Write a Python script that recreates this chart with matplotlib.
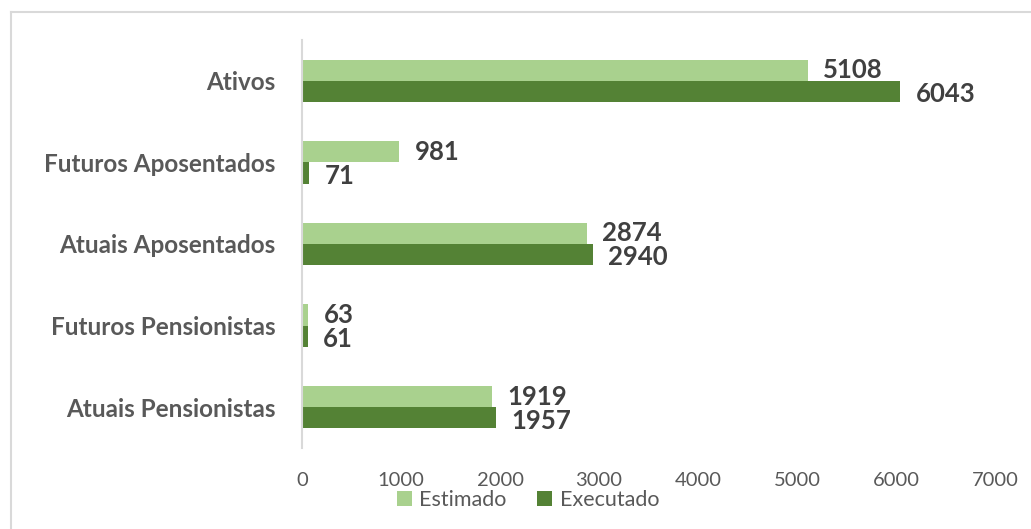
import numpy as np
import matplotlib.pyplot as plt
from matplotlib.lines import Line2D

categories = ['Ativos', 'Futuros Aposentados', 'Atuais Aposentados',
              'Futuros Pensionistas', 'Atuais Pensionistas']
estimado = [5108, 981, 2874, 63, 1919]
executado = [6043, 71, 2940, 61, 1957]
xticks = [0, 1000, 2000, 3000, 4000, 5000, 6000, 7000]

light = '#A9D18E'
dark = '#548235'

plt.rcParams['font.family'] = ['Lato', 'DejaVu Sans']

fig = plt.figure(figsize=(10.31, 5.29), dpi=100)
ax = fig.add_axes([302 / 1031, 1 - 448 / 529, (995 - 302) / 1031, (448 - 40) / 529])

y = np.arange(len(categories))[::-1]
h = 0.26
b1 = ax.barh(y + h / 2, estimado, height=h, color=light, label='Estimado')
b2 = ax.barh(y - h / 2, executado, height=h, color=dark, label='Executado')

# data labels; the two series are nudged apart a little, as in the reference
for bars, vals, dy in ((b1, estimado, 0), (b2, executado, -2)):
    for bar, v in zip(bars, vals):
        ax.annotate(str(v), (bar.get_width(), bar.get_y() + bar.get_height() / 2),
                    xytext=(11, dy), textcoords='offset points', va='center', ha='left',
                    fontsize=18.5, fontweight='bold', color='#404040')

ax.set_xlim(0, 7000)
ax.set_ylim(-0.5, 4.5)
ax.set_xticks(xticks)
ax.set_xticklabels([str(t) for t in xticks])
ax.set_yticks(y)
ax.set_yticklabels(categories, fontsize=17.5, fontweight='bold', color='#595959')
ax.tick_params(axis='x', length=0, labelsize=14.5, labelcolor='#595959', pad=17)
ax.tick_params(axis='y', length=0, pad=19)
for s in ['top', 'right', 'bottom']:
    ax.spines[s].set_visible(False)
ax.spines['left'].set_color('#D9D9D9')
ax.spines['left'].set_linewidth(1.5)

fig.legend(handles=[b1, b2], loc='center', bbox_to_anchor=(528 / 1031, 1 - 500 / 529),
           ncol=2, frameon=False, fontsize=15.5, handlelength=0.7, handleheight=0.7,
           handletextpad=0.35, columnspacing=1.4, labelcolor='#595959')

# outer chart border (left and top edges visible)
fig.add_artist(Line2D([11 / 1031, 11 / 1031], [0, 1 - 12 / 529], transform=fig.transFigure,
                      color='#D9D9D9', lw=1.5))
fig.add_artist(Line2D([11 / 1031, 1], [1 - 12 / 529, 1 - 12 / 529], transform=fig.transFigure,
                      color='#D9D9D9', lw=1.5))

fig.savefig('out.png', dpi=100)
